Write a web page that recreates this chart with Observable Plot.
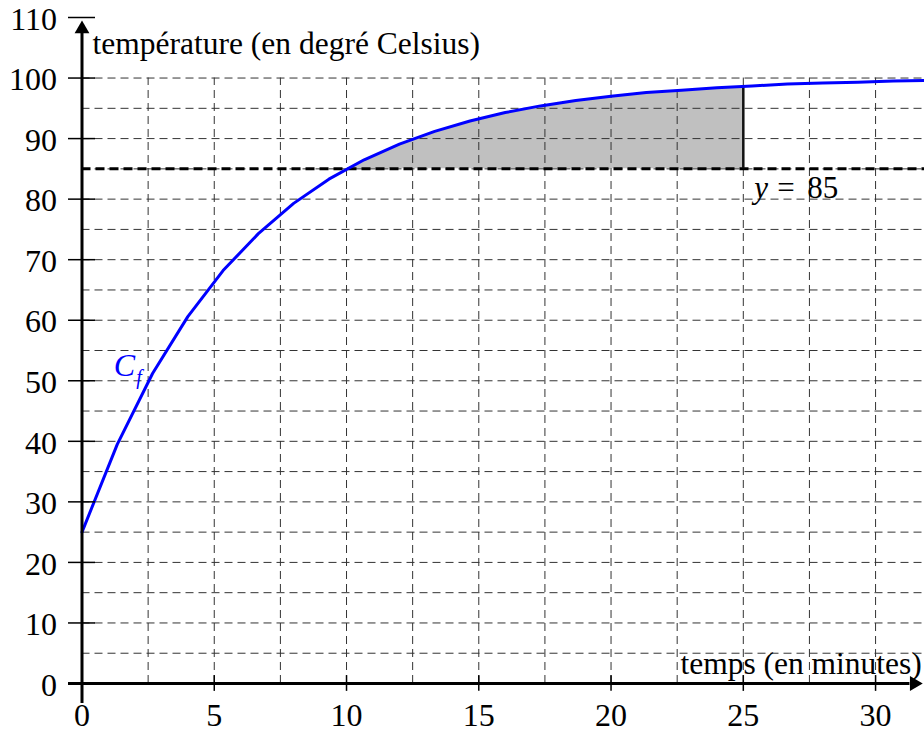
<!DOCTYPE html>
<html><head><meta charset="utf-8">
<script src="https://cdn.jsdelivr.net/npm/d3@7"></script>
<script src="https://cdn.jsdelivr.net/npm/@observablehq/plot@0.6"></script>
<style>body{margin:0;background:#fff}</style>
</head><body><div id="chart"></div>
<script>
// Curve C_f : temperature (°C) at each kink of the polyline
const times = [0, 1.333, 2.667, 4, 5.333, 6.667, 8, 9.333, 10.667, 12, 13.333, 14.667, 16, 17.333, 18.667, 20, 21.333, 22.667, 24, 25.333, 26.667, 28, 29.333, 30.667, 32];
const temps = [25, 39.5, 51.2, 60.6, 68.2, 74.3, 79.3, 83.3, 86.5, 89.1, 91.2, 92.9, 94.3, 95.4, 96.3, 97.0, 97.6, 98.0, 98.4, 98.7, 99.0, 99.2, 99.3, 99.5, 99.6];
// Shaded region between y = 85 and the curve, from t = 10 to t = 25
const shadeTimes = [10, 10.667, 12, 13.333, 14.667, 16, 17.333, 18.667, 20, 21.333, 22.667, 24, 25];
const shadeTemps = [85, 86.5, 89.1, 91.2, 92.9, 94.3, 95.4, 96.3, 97.0, 97.6, 98.0, 98.4, 98.6];
const threshold = 85;
const shadeEnd = 25;
const shadeEndTemp = 98.6;
// Ticks and grid
const xTicks = [0, 5, 10, 15, 20, 25, 30];
const yTicks = [0, 10, 20, 30, 40, 50, 60, 70, 80, 90, 100, 110];
const xGrid = [2.5, 5, 7.5, 10, 12.5, 15, 17.5, 20, 22.5, 25, 27.5, 30];
const yGrid = [5, 10, 15, 20, 25, 30, 35, 40, 45, 50, 55, 60, 65, 70, 75, 80, 85, 90, 95, 100];
const xMax = 31.85, yMax = 110;
const xAxisStart = -0.51, xAxisEnd = 31.3, xArrow = 31.46;
const yAxisStart = -3.3, yAxisEnd = 108, yArrow = 108.1;
const yLabel = "température (en degré Celsius)";
const xLabel = "temps (en minutes)";

const serif = "Liberation Serif";

const chart = Plot.plot({
  width: 924,
  height: 733,
  marginLeft: 81.5,
  marginRight: 0,
  marginTop: 17,
  marginBottom: 50,
  x: {domain: [0, xMax]},
  y: {domain: [0, yMax]},
  style: {background: "white", color: "black", fontFamily: serif, fontSize: "30px", overflow: "visible"},
  marks: [
    Plot.areaY(shadeTimes, {x: shadeTimes, y1: threshold, y2: shadeTemps, fill: "#c0c0c0"}),
    Plot.ruleY(yGrid, {x1: 0, x2: xMax, stroke: "#333", strokeWidth: 1, strokeDasharray: "8,5"}),
    Plot.ruleX(xGrid, {y1: 0, y2: 100, stroke: "#333", strokeWidth: 1, strokeDasharray: "8,5"}),
    Plot.ruleY([threshold], {x1: 0, x2: xMax, stroke: "black", strokeWidth: 3, strokeDasharray: "9,5"}),
    Plot.ruleX([shadeEnd], {y1: threshold, y2: shadeEndTemp, stroke: "#111", strokeWidth: 2.5}),
    Plot.line(times, {x: times, y: temps, stroke: "#0000ff", strokeWidth: 3}),
    // axes with arrowheads
    Plot.ruleY([0], {x1: xAxisStart, x2: xAxisEnd, stroke: "black", strokeWidth: 3}),
    Plot.ruleX([0], {y1: yAxisStart, y2: yAxisEnd, stroke: "black", strokeWidth: 3}),
    Plot.dot([0], {x: xArrow, y: 0, symbol: "triangle", r: 5.5, fill: "black", stroke: "none", rotate: 90}),
    Plot.dot([0], {x: 0, y: yArrow, symbol: "triangle", r: 5.5, fill: "black", stroke: "none"}),
    Plot.ruleY(yTicks, {x1: -0.51, x2: 0.51, stroke: "black", strokeWidth: 1.5}),
    Plot.ruleX(xTicks.slice(1), {y1: -1.3, y2: 1.3, stroke: "black", strokeWidth: 1.5}),
    Plot.axisY(yTicks, {anchor: "left", tickSize: 0, tickPadding: 25, fontSize: 32, fontFamily: serif, dy: 2}),
    Plot.axisX(xTicks, {anchor: "bottom", tickSize: 0, tickPadding: 20, fontSize: 32, fontFamily: serif}),
    // labels
    Plot.text([yLabel], {x: 0.4, y: 104.05, text: d => d, textAnchor: "start", lineAnchor: "bottom", fontSize: 31.5, fontFamily: serif}),
    Plot.text([xLabel], {x: 31.75, y: 1.65, text: d => d, textAnchor: "end", lineAnchor: "bottom", fontSize: 31.5, fontFamily: serif}),
    Plot.text(["y"], {x: shadeEnd, y: 80.26, dx: 11, text: d => d, textAnchor: "start", lineAnchor: "bottom", fontSize: 31, fontStyle: "italic", fontFamily: serif}),
    Plot.text(["="], {x: shadeEnd, y: 80.26, dx: 34, text: d => d, textAnchor: "start", lineAnchor: "bottom", fontSize: 31, fontFamily: serif}),
    Plot.text([String(threshold)], {x: shadeEnd, y: 80.26, dx: 64, text: d => d, textAnchor: "start", lineAnchor: "bottom", fontSize: 31, fontFamily: serif}),
    Plot.text(["C"], {x: 1.2, y: 50.87, text: d => d, textAnchor: "start", lineAnchor: "bottom", fontSize: 32, fontStyle: "italic", fill: "#0000ff", fontFamily: serif}),
    Plot.text(["f"], {x: 2.05, y: 49.5, text: d => d, textAnchor: "start", lineAnchor: "bottom", fontSize: 20, fontStyle: "italic", fill: "#0000ff", fontFamily: serif})
  ]
});
document.getElementById("chart").appendChild(chart);
</script>
</body></html>
